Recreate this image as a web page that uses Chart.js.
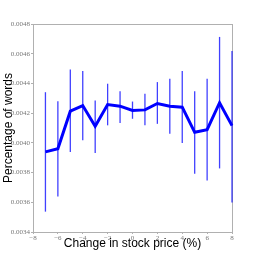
<!DOCTYPE html>
<html>
<head>
<meta charset="utf-8">
<style>
html,body{margin:0;padding:0;background:#fff;}
#wrap{width:258px;height:258px;}
</style>
<script src="https://cdn.jsdelivr.net/npm/chart.js@4.4.1/dist/chart.umd.min.js"></script>
</head>
<body>
<div id="wrap"><canvas id="c" width="258" height="258"></canvas></div>
<script>
const priceChange = [-7,-6,-5,-4,-3,-2,-1,0,1,2,3,4,5,6,7,8];
const meanPct = [0.003939,0.003961,0.004213,0.004251,0.004112,0.004258,0.004247,0.004218,0.004222,0.004265,0.004247,0.004240,0.004071,0.004089,0.004270,0.004116];
const upperPct = [0.004341,0.004280,0.004493,0.004483,0.004285,0.004398,0.004348,0.004278,0.004330,0.004409,0.004432,0.004483,0.004348,0.004432,0.004713,0.004618];
const lowerPct = [0.003537,0.003639,0.003939,0.004017,0.003932,0.004118,0.004134,0.004162,0.004118,0.004128,0.004062,0.003999,0.003792,0.003747,0.003828,0.003598];
const yTicks = [0.0034,0.0036,0.0038,0.0040,0.0042,0.0044,0.0046,0.0048];
const xTicks = [-8,-6,-4,-2,0,2,4,6,8];

const points = priceChange.map((x,i)=>({x:x,y:meanPct[i]}));

const frame = {
  id:'frame',
  beforeDatasetsDraw(chart){
    const a = chart.chartArea, ctx = chart.ctx;
    ctx.save();
    ctx.strokeStyle = '#b0b0b0';
    ctx.lineWidth = 1;
    ctx.strokeRect(Math.round(a.left)+0.5, Math.round(a.top)+0.5, Math.round(a.right-a.left), Math.round(a.bottom-a.top));
    ctx.restore();
  }
};
const errorBars = {
  id:'errorBars',
  beforeDatasetsDraw(chart){
    const ctx = chart.ctx, xs = chart.scales.x, ys = chart.scales.y;
    ctx.save();
    ctx.strokeStyle = 'rgba(0,0,255,0.75)';
    ctx.lineWidth = 1.3;
    priceChange.forEach((x,i)=>{
      const px = xs.getPixelForValue(x);
      ctx.beginPath();
      ctx.moveTo(px, ys.getPixelForValue(lowerPct[i]));
      ctx.lineTo(px, ys.getPixelForValue(upperPct[i]));
      ctx.stroke();
    });
    ctx.restore();
  }
};

new Chart(document.getElementById('c'), {
  type:'line',
  data:{datasets:[{data:points, borderColor:'#0000ff', borderWidth:3, pointRadius:0, tension:0, fill:false, clip:4}]},
  options:{
    responsive:false, animation:false, devicePixelRatio:1,
    layout:{padding:{top:24,right:26,left:0,bottom:0}},
    plugins:{legend:{display:false}, tooltip:{enabled:false}},
    scales:{
      x:{type:'linear', min:-8, max:8,
        afterBuildTicks(s){ s.ticks = xTicks.map(v=>({value:v})); },
        afterFit(s){ s.height = 26; },
        grid:{display:true, drawOnChartArea:false, tickLength:2, color:'#b0b0b0'},
        border:{display:true, color:'#b0b0b0'},
        ticks:{font:{family:'"Liberation Serif","DejaVu Serif",serif', size:7}, color:'#777', padding:0, maxRotation:0,
          callback:v=> v<0 ? '\u2212'+Math.abs(v) : String(v)},
        title:{display:true, text:'Change in stock price (%)', color:'#000', font:{family:'"Liberation Sans",Arial,sans-serif', size:12}, padding:{top:0,bottom:7}}
      },
      y:{type:'linear', min:0.0034, max:0.0048,
        afterBuildTicks(s){ s.ticks = yTicks.map(v=>({value:v})); },
        afterFit(s){ s.width = 33; },
        grid:{display:true, drawOnChartArea:false, tickLength:2, color:'#b0b0b0'},
        border:{display:true, color:'#b0b0b0'},
        ticks:{font:{family:'"Liberation Serif","DejaVu Serif",serif', size:7}, color:'#777', padding:1,
          callback:v=> v.toFixed(4)},
        title:{display:true, text:'Percentage of words', color:'#000', font:{family:'"Liberation Sans",Arial,sans-serif', size:12}, padding:{top:1,bottom:0}}
      }
    }
  },
  plugins:[frame, errorBars]
});
</script>
</body>
</html>
